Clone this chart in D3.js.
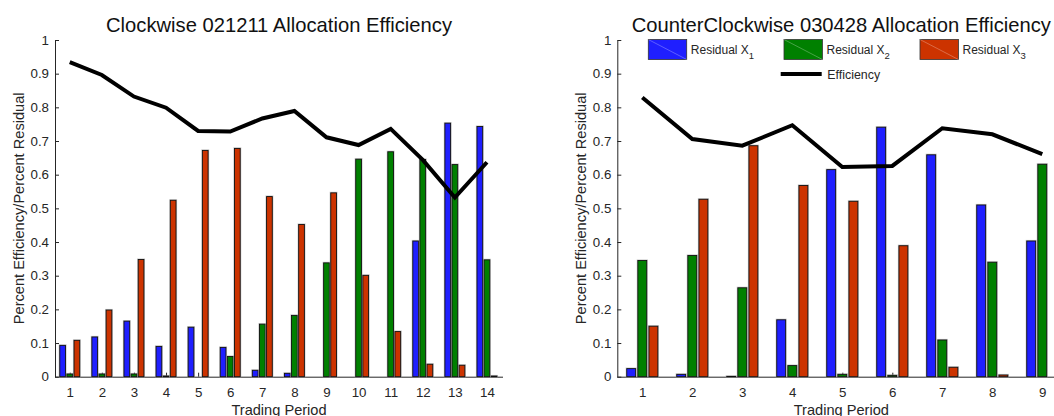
<!DOCTYPE html>
<html>
<head>
<meta charset="utf-8">
<script src="https://cdn.jsdelivr.net/npm/d3@7"></script>
<style>
  html, body { margin: 0; padding: 0; background: #fff; }
  svg { display: block; font-family: "Liberation Sans", Arial, Helvetica, sans-serif; }
</style>
</head>
<body>
<svg id="chart" width="1054" height="416"></svg>
<script>
// ---- data -------------------------------------------------------------
const seriesNames = ["Residual X", "Residual X", "Residual X"];
const seriesSubs = ["1", "2", "3"];
const seriesColors = ["#1f1fff", "#008000", "#cc3300"];
const yTicks = [0, 0.1, 0.2, 0.3, 0.4, 0.5, 0.6, 0.7, 0.8, 0.9, 1];

// Clockwise session 021211
const leftTitle = "Clockwise 021211 Allocation Efficiency";
const leftPeriods = [1, 2, 3, 4, 5, 6, 7, 8, 9, 10, 11, 12, 13, 14];
const leftX1 = [0.093, 0.118, 0.165, 0.090, 0.147, 0.087, 0.019, 0.010, 0, 0, 0, 0.403, 0.753, 0.743];
const leftX2 = [0.008, 0.008, 0.008, 0.002, 0, 0.060, 0.156, 0.182, 0.338, 0.646, 0.668, 0.645, 0.630, 0.347];
const leftX3 = [0.108, 0.198, 0.348, 0.524, 0.672, 0.678, 0.535, 0.452, 0.546, 0.301, 0.134, 0.037, 0.034, 0.002];
const leftEff = [0.934, 0.896, 0.832, 0.799, 0.730, 0.728, 0.767, 0.789, 0.711, 0.688, 0.736, 0.644, 0.532, 0.637];

// CounterClockwise session 030428
const rightTitle = "CounterClockwise 030428 Allocation Efficiency";
const rightPeriods = [1, 2, 3, 4, 5, 6, 7, 8, 9];
const rightX1 = [0.024, 0.007, 0.001, 0.169, 0.615, 0.741, 0.659, 0.510, 0.403];
const rightX2 = [0.345, 0.360, 0.264, 0.033, 0.007, 0.004, 0.109, 0.340, 0.631];
const rightX3 = [0.150, 0.527, 0.686, 0.568, 0.521, 0.389, 0.028, 0.005, 0];
const rightEff = [0.829, 0.706, 0.686, 0.747, 0.623, 0.626, 0.738, 0.720, 0.661];

const xLabel = "Trading Period";
const yLabel = "Percent Efficiency/Percent Residual";
const effName = "Efficiency";

// ---- drawing ------------------------------------------------------------
const svg = d3.select("#chart");
const axisColor = "#262626";

function panel(opts) {
  const { left, right, top, bottom, xDomain, periods, series, eff, title, legend } = opts;
  const g = svg.append("g");
  const x = d3.scaleLinear().domain(xDomain).range([left, right]);
  const y = d3.scaleLinear().domain([0, 1]).range([bottom, top]);
  const step = x(2) - x(1);
  const barW = step * 0.178;
  const offs = [-0.222, 0, 0.222].map(o => o * step);

  // y axis: ticks point inward
  const yAxis = d3.axisLeft(y).tickValues(yTicks).tickSizeInner(-4).tickSizeOuter(0)
    .tickPadding(6).tickFormat(d3.format("~g"));
  const ya = g.append("g").attr("transform", `translate(${left},0)`).call(yAxis);
  ya.select(".domain").attr("stroke", axisColor);
  ya.selectAll(".tick line").attr("stroke", axisColor);
  ya.selectAll(".tick text").attr("fill", axisColor).attr("font-size", 13.3)
    .attr("font-family", "Liberation Sans, Arial, sans-serif");

  // x axis: ticks point inward (upward)
  const xAxis = d3.axisBottom(x).tickValues(periods).tickSizeInner(-4).tickSizeOuter(0)
    .tickPadding(10.6).tickFormat(d3.format("d"));
  const xa = g.append("g").attr("transform", `translate(0,${bottom})`).call(xAxis);
  xa.select(".domain").attr("stroke", axisColor).attr("d", `M${left},0.5H${Math.min(right, 1054)}`);
  xa.selectAll(".tick line").attr("stroke", axisColor);
  xa.selectAll(".tick text").attr("fill", axisColor).attr("font-size", 13.3)
    .attr("font-family", "Liberation Sans, Arial, sans-serif");

  // grouped bars
  series.forEach((vals, si) => {
    const data = vals.map((v, i) => ({ p: periods[i], v }));
    const sg = g.append("g");
    // soft halo around each bar
    sg.selectAll("rect.halo").data(data).join("rect").attr("class", "halo")
      .attr("x", d => x(d.p) + offs[si] - barW / 2)
      .attr("y", d => y(d.v))
      .attr("width", barW)
      .attr("height", d => y(0) - y(d.v))
      .attr("fill", "none").attr("stroke", "#9a9a9a").attr("stroke-width", 2.2).attr("opacity", 0.55);
    sg.selectAll("rect.bar").data(data).join("rect").attr("class", "bar")
      .attr("x", d => x(d.p) + offs[si] - barW / 2)
      .attr("y", d => y(d.v))
      .attr("width", barW)
      .attr("height", d => y(0) - y(d.v))
      .attr("fill", seriesColors[si]).attr("stroke", "#111").attr("stroke-width", 0.9);
  });

  // efficiency line
  const line = d3.line().x((d, i) => x(periods[i])).y(d => y(d));
  g.append("path").datum(eff).attr("d", line)
    .attr("fill", "none").attr("stroke", "#000").attr("stroke-width", 4)
    .attr("stroke-linejoin", "miter");

  // title and axis labels
  const cx = (left + right) / 2;
  g.append("text").attr("x", cx).attr("y", 31.5).attr("text-anchor", "middle")
    .attr("font-size", 20.2).attr("fill", "#111").text(title);
  g.append("text").attr("x", cx).attr("y", 415).attr("text-anchor", "middle")
    .attr("font-size", 14.6).attr("fill", axisColor).text(xLabel);
  g.append("text").attr("transform", `translate(${left - 31},${(top + bottom) / 2}) rotate(-90)`)
    .attr("text-anchor", "middle").attr("font-size", 14.6).attr("fill", axisColor).text(yLabel);

  if (legend) {
    const lg = g.append("g");
    const colX = [648.3, 784, 920];
    seriesNames.forEach((name, i) => {
      const bx = colX[i];
      lg.append("rect").attr("x", bx).attr("y", 39.5).attr("width", 38.4).attr("height", 20)
        .attr("fill", seriesColors[i]).attr("stroke", "#333").attr("stroke-width", 0.8);
      lg.append("line").attr("x1", bx).attr("y1", 39.5).attr("x2", bx + 38.4).attr("y2", 59.5)
        .attr("stroke", "#fff").attr("stroke-opacity", 0.35).attr("stroke-width", 0.8);
      const t = lg.append("text").attr("x", bx + 42.5).attr("y", 54).attr("font-size", 12)
        .attr("fill", axisColor);
      t.append("tspan").text(name);
      t.append("tspan").attr("dy", 4.5).attr("font-size", 9.5).text(seriesSubs[i]);
    });
    lg.append("line").attr("x1", 780.7).attr("x2", 821.7).attr("y1", 74).attr("y2", 74)
      .attr("stroke", "#000").attr("stroke-width", 4);
    lg.append("text").attr("x", 827.3).attr("y", 78.5).attr("font-size", 12.4)
      .attr("fill", axisColor).text(effName);
  }
}

panel({
  left: 55, right: 503, top: 40, bottom: 376.7,
  xDomain: [0.54, 14.5], periods: leftPeriods,
  series: [leftX1, leftX2, leftX3], eff: leftEff, title: leftTitle, legend: false
});

panel({
  left: 617.3, right: 1065.3, top: 40, bottom: 376.7,
  xDomain: [0.5, 9.46], periods: rightPeriods,
  series: [rightX1, rightX2, rightX3], eff: rightEff, title: rightTitle, legend: true
});
</script>
</body>
</html>
